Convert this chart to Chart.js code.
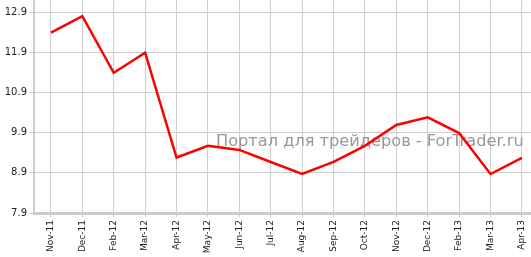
<!DOCTYPE html>
<html>
<head>
<meta charset="utf-8">
<script src="https://cdn.jsdelivr.net/npm/chart.js@4/dist/chart.umd.min.js"></script>
<style>
html,body{margin:0;padding:0;background:#fff;}
canvas{display:block;}
</style>
</head>
<body>
<canvas id="c" width="531" height="257"></canvas>
<script>
const categories = ["Nov-11","Dec-11","Feb-12","Mar-12","Apr-12","May-12","Jun-12","Jul-12","Aug-12","Sep-12","Oct-12","Nov-12","Dec-12","Feb-13","Mar-13","Apr-13"];
const values = [12.39, 12.8, 11.39, 11.89, 9.28, 9.57, 9.47, 9.17, 8.87, 9.17, 9.57, 10.09, 10.28, 9.89, 8.87, 9.27];
const yTicks = [7.9, 8.9, 9.9, 10.9, 11.9, 12.9];
const watermark = "Портал для трейдеров - ForTrader.ru";

const watermarkPlugin = {
  id: 'wm',
  beforeDatasetsDraw(chart) {
    const ctx = chart.ctx;
    ctx.save();
    ctx.font = '16.2px "DejaVu Sans"';
    ctx.fillStyle = '#a09494';
    ctx.textBaseline = 'alphabetic';
    ctx.textAlign = 'left';
    ctx.fillText(watermark, 216, 146);
    ctx.restore();
  }
};

new Chart(document.getElementById('c'), {
  type: 'line',
  data: {
    datasets: [{
      data: values.map((v, i) => ({x: i, y: v})),
      borderColor: '#ff0000',
      borderWidth: 2.5,
      pointRadius: 0,
      tension: 0,
      fill: false
    }]
  },
  options: {
    responsive: false,
    animation: false,
    devicePixelRatio: 1,
    layout: {padding: 0},
    plugins: {legend: {display: false}, tooltip: {enabled: false}},
    scales: {
      x: {
        type: 'linear',
        min: -0.54,
        max: 15.29,
        afterBuildTicks(scale) { scale.ticks = categories.map((c, i) => ({value: i})); },
        afterFit(scale) { scale.height = 44; scale.paddingLeft = 0; scale.paddingRight = 0; },
        ticks: {
          callback: (v) => categories[v],
          minRotation: 90, maxRotation: 90,
          autoSkip: false,
          padding: 3,
          color: '#222',
          font: {family: '"DejaVu Sans"', size: 9}
        },
        grid: {color: '#cfcfcf', lineWidth: 1, tickLength: 4, tickColor: '#cfcfcf'},
        border: {display: true, color: '#cccccc', width: 3}
      },
      y: {
        type: 'linear',
        min: 7.9,
        max: 13.2,
        afterBuildTicks(scale) { scale.ticks = yTicks.map(v => ({value: v})); },
        afterFit(scale) { scale.width = 34; scale.paddingTop = 0; scale.paddingBottom = 0; },
        ticks: {
          callback: (v) => v.toFixed(1),
          padding: 3,
          color: '#222',
          font: {family: '"DejaVu Sans"', size: 10}
        },
        grid: {color: '#cfcfcf', lineWidth: 1, tickLength: 4, tickColor: '#cfcfcf'},
        border: {display: true, color: '#cccccc', width: 2}
      }
    }
  },
  plugins: [watermarkPlugin]
});
</script>
</body>
</html>
